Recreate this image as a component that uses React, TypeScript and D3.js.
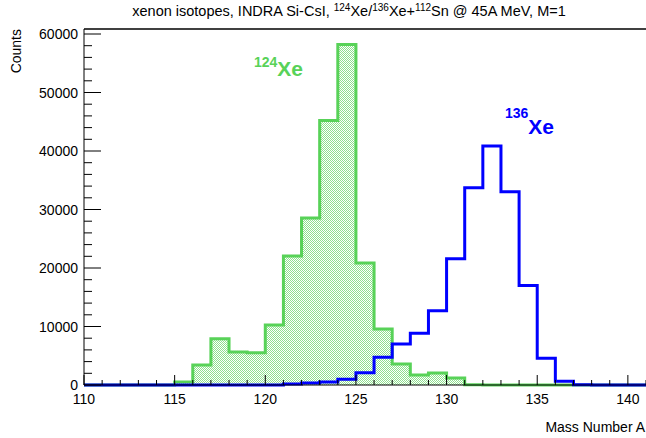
import React from "react";
import * as d3 from "d3";

const binStarts = d3.range(110, 141); // 110..140, unit-width bins
const xe124 = [0, 0, 0, 0, 0, 500, 3400, 7900, 5650, 5500, 10250, 22050, 28550, 45200, 58200, 20850, 9570, 3600, 1700, 2050, 1200, 30, 20, 10, 0, 0, 0, 0, 0, 0, 0];
const xe136 = [0, 0, 0, 0, 0, 0, 0, 0, 0, 0, 0, 150, 350, 500, 1000, 2100, 4730, 7000, 8830, 12700, 21600, 33700, 40850, 33050, 17000, 4560, 650, 60, 0, 0, 0];
const xTicksMajor = [110, 115, 120, 125, 130, 135, 140];
const yTicksMajor = [0, 10000, 20000, 30000, 40000, 50000, 60000];

const W = 646, H = 438;
const L = 84, R = 646, T = 29, B = 385;

export default function App() {
  const x = d3.scaleLinear().domain([110, 141]).range([L, R]);
  const y = d3.scaleLinear().domain([0, 60855]).range([B, T]);

  const stepPath = (vals: number[]) => {
    const pts: [number, number][] = [[binStarts[0], 0]];
    vals.forEach((v, i) => {
      pts.push([binStarts[i], v]);
      pts.push([binStarts[i] + 1, v]);
    });
    pts.push([binStarts[binStarts.length - 1] + 1, 0]);
    return d3.line<[number, number]>().x(d => x(d[0])).y(d => y(d[1]))(pts) || "";
  };

  const green = "#58d258";
  const blue = "#0000ff";
  const font = "'Liberation Sans', Arial, Helvetica, sans-serif";

  const xMinor = d3.range(110, 142, 1);
  const yMinor = d3.range(0, 61000, 2000);

  return (
    <div style={{ position: "absolute", left: 0, top: 0 }}>
      <svg width={W} height={H} style={{ display: "block", background: "#fff" }} fontFamily={font}>
        <defs>
          <pattern id="dots" width="2" height="2" patternUnits="userSpaceOnUse">
            <rect width="2" height="2" fill="#ffffff" />
            <rect x="0" y="0" width="1" height="1" fill="#8fe08f" />
            <rect x="1" y="1" width="1" height="1" fill="#8fe08f" />
          </pattern>
        </defs>
        {/* title */}
        <text x={349} y={16} fontSize={14.5} textAnchor="middle" fill="#000">
          xenon isotopes, INDRA Si-CsI, <tspan fontSize={10} dy={-5}>124</tspan><tspan dy={5}>Xe/</tspan><tspan fontSize={10} dy={-5}>136</tspan><tspan dy={5}>Xe+</tspan><tspan fontSize={10} dy={-5}>112</tspan><tspan dy={5}>Sn @ 45A MeV, M=1</tspan>
        </text>

        {/* histograms */}
        <path d={stepPath(xe124)} fill="url(#dots)" stroke={green} strokeWidth={3} />
        <path d={stepPath(xe136)} fill="none" stroke={blue} strokeWidth={3} />

        {/* frame */}
        <line x1={L} x2={R} y1={T} y2={T} stroke="#000" strokeWidth={1.5} />
        <line x1={L} x2={L} y1={T} y2={B} stroke="#000" strokeWidth={1} />
        <line x1={L} x2={R} y1={B} y2={B} stroke="#000" strokeWidth={1} />

        {/* y ticks */}
        {yMinor.map(v => (
          <line key={"ym" + v} x1={L} x2={L + (v % 10000 === 0 ? 17 : 8)} y1={y(v)} y2={y(v)} stroke="#000" strokeWidth={1} />
        ))}
        {yTicksMajor.map(v => (
          <text key={"yl" + v} x={78} y={y(v) + 5} fontSize={14} textAnchor="end" fill="#000">{v}</text>
        ))}
        {/* x ticks */}
        {xMinor.map(v => (
          <line key={"xm" + v} x1={x(v)} x2={x(v)} y1={B} y2={B - (v % 5 === 0 ? 10 : 5)} stroke="#000" strokeWidth={1} />
        ))}
        {xTicksMajor.map(v => (
          <text key={"xl" + v} x={x(v)} y={404} fontSize={14} textAnchor="middle" fill="#000">{v}</text>
        ))}

        {/* axis titles */}
        <text x={645} y={432} fontSize={14} textAnchor="end" fill="#000">Mass Number A</text>
        <text transform="translate(21,29) rotate(-90)" fontSize={14} textAnchor="end" fill="#000">Counts</text>

        {/* labels */}
        <text x={254} y={76} fill={green} fontWeight="bold">
          <tspan fontSize={14} dy={-9}>124</tspan><tspan fontSize={21} dy={9}>Xe</tspan>
        </text>
        <text x={505} y={134} fill={blue} fontWeight="bold">
          <tspan fontSize={14} dy={-16}>136</tspan><tspan fontSize={21} dy={16}>Xe</tspan>
        </text>
      </svg>
    </div>
  );
}
